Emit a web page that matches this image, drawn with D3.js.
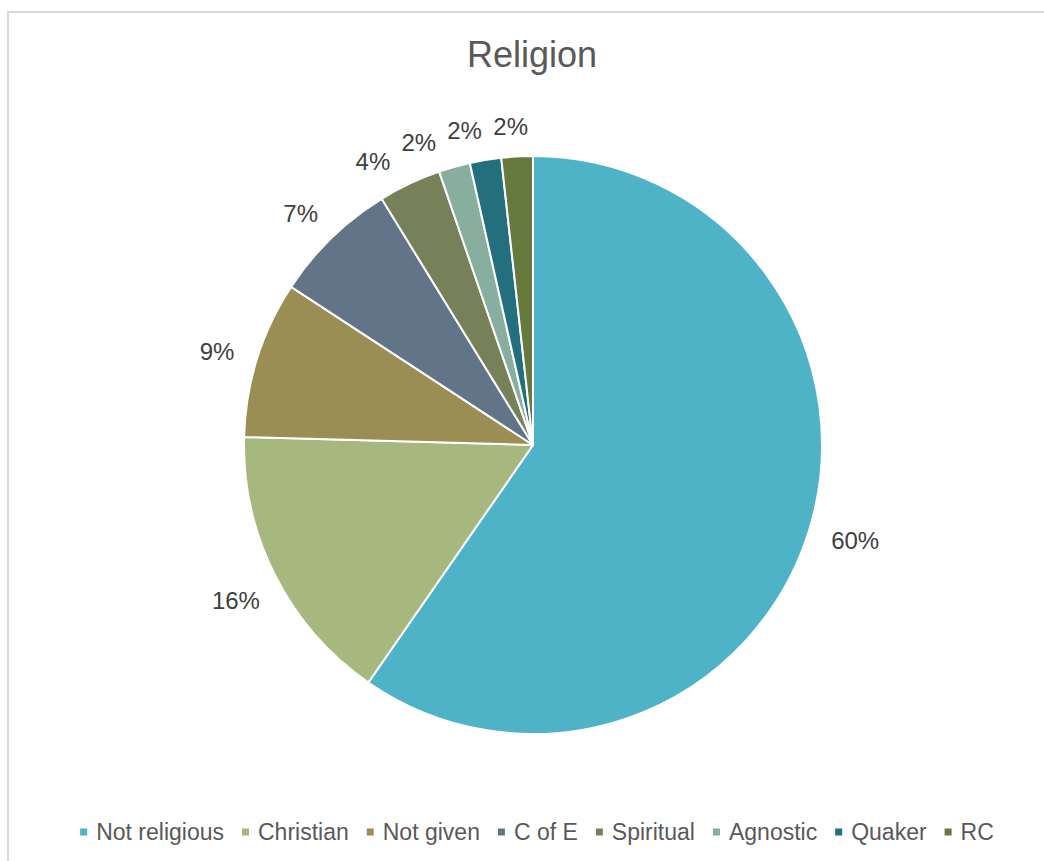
<!DOCTYPE html>
<html>
<head>
<meta charset="utf-8">
<script src="https://cdn.jsdelivr.net/npm/d3@7"></script>
<style>
  html, body { margin: 0; padding: 0; background: #fff; }
  svg { display: block; font-family: "Liberation Sans", Arial, sans-serif; }
</style>
</head>
<body>
<svg id="chart" width="1044" height="861"></svg>
<script>
// Respondent counts by religion
const categories = ["Not religious", "Christian", "Not given", "C of E", "Spiritual", "Agnostic", "Quaker", "RC"];
const counts = [34, 9, 5, 4, 2, 1, 1, 1];
const colors = ["#4fb3c8", "#a7b87f", "#9a8e55", "#627487", "#778159", "#87ae9e", "#236f7e", "#677a3d"];
const title = "Religion";

const svg = d3.select("#chart");
const W = 1044, H = 861;

// chart area frame
svg.append("rect")
  .attr("x", 8).attr("y", 12)
  .attr("width", W + 20).attr("height", H + 20)
  .attr("fill", "#fff")
  .attr("stroke", "#d9d9d9")
  .attr("stroke-width", 2);

svg.append("text")
  .attr("x", 532).attr("y", 67)
  .attr("text-anchor", "middle")
  .attr("fill", "#595959")
  .style("font-size", "36px")
  .text(title);

const cx = 533, cy = 445, r = 289;
const total = d3.sum(counts);
const color = d3.scaleOrdinal().domain(categories).range(colors);

const pie = d3.pie().sort(null).value(d => d.value);
const arcs = pie(categories.map((c, i) => ({ name: c, value: counts[i] })));
const arc = d3.arc().innerRadius(0).outerRadius(r);

const g = svg.append("g").attr("transform", `translate(${cx},${cy})`);

g.selectAll("path.slice")
  .data(arcs)
  .join("path")
  .attr("class", "slice")
  .attr("d", arc)
  .attr("fill", d => color(d.data.name))
  .attr("stroke", "#fff")
  .attr("stroke-width", 2)
  .attr("stroke-linejoin", "round");

// percentage labels just outside each slice
const labelGap = 22, labelH = 14, minGap = 11, angleNudge = 0.015;
const fmt = d => Math.round(d.data.value / total * 100) + "%";
const labels = g.selectAll("text.lbl")
  .data(arcs)
  .join("text")
  .attr("class", "lbl")
  .attr("text-anchor", "middle")
  .attr("dominant-baseline", "central")
  .attr("fill", "#404040")
  .style("font-size", "24px")
  .text(fmt);

const place = (a, w) => {
  const sx = Math.sin(a), sy = -Math.cos(a);
  const dist = r + labelGap + (w / 2) * Math.abs(sx) + (labelH / 2) * Math.abs(sy);
  return { x: sx * dist, y: sy * dist };
};

const boxes = [];
labels.each(function(d) {
  const w = this.getComputedTextLength();
  const a = (d.startAngle + d.endAngle) / 2 - angleNudge;
  boxes.push({ node: this, w, a, ...place(a, w) });
});

// walk back from the last slice, nudging labels counter-clockwise until they clear their neighbour
for (let i = boxes.length - 2; i >= 0; i--) {
  const b = boxes[i], n = boxes[i + 1];
  let guard = 0;
  while (guard++ < 400 &&
         Math.abs(b.y - n.y) < 22 &&
         b.x > n.x - (b.w / 2 + n.w / 2 + minGap)) {
    b.a -= 0.002;
    Object.assign(b, place(b.a, b.w));
  }
}
boxes.forEach(b => d3.select(b.node).attr("x", b.x).attr("y", b.y));

// legend along the bottom
const legend = svg.append("g");
const markerSize = 7, markerGap = 9, itemGap = 18;
let xPos = 0;
const items = legend.selectAll("g.item")
  .data(categories)
  .join("g")
  .attr("class", "item");
items.append("rect")
  .attr("width", markerSize).attr("height", markerSize)
  .attr("y", -markerSize / 2 - 8)
  .attr("fill", d => color(d));
items.append("text")
  .attr("x", markerSize + markerGap)
  .attr("fill", "#595959")
  .style("font-size", "23px")
  .text(d => d);
items.each(function() {
  const w = d3.select(this).select("text").node().getComputedTextLength();
  d3.select(this).attr("transform", `translate(${xPos},0)`);
  xPos += markerSize + markerGap + w + itemGap;
});
const legendW = xPos - itemGap;
legend.attr("transform", `translate(${537 - legendW / 2},840)`);
</script>
</body>
</html>
